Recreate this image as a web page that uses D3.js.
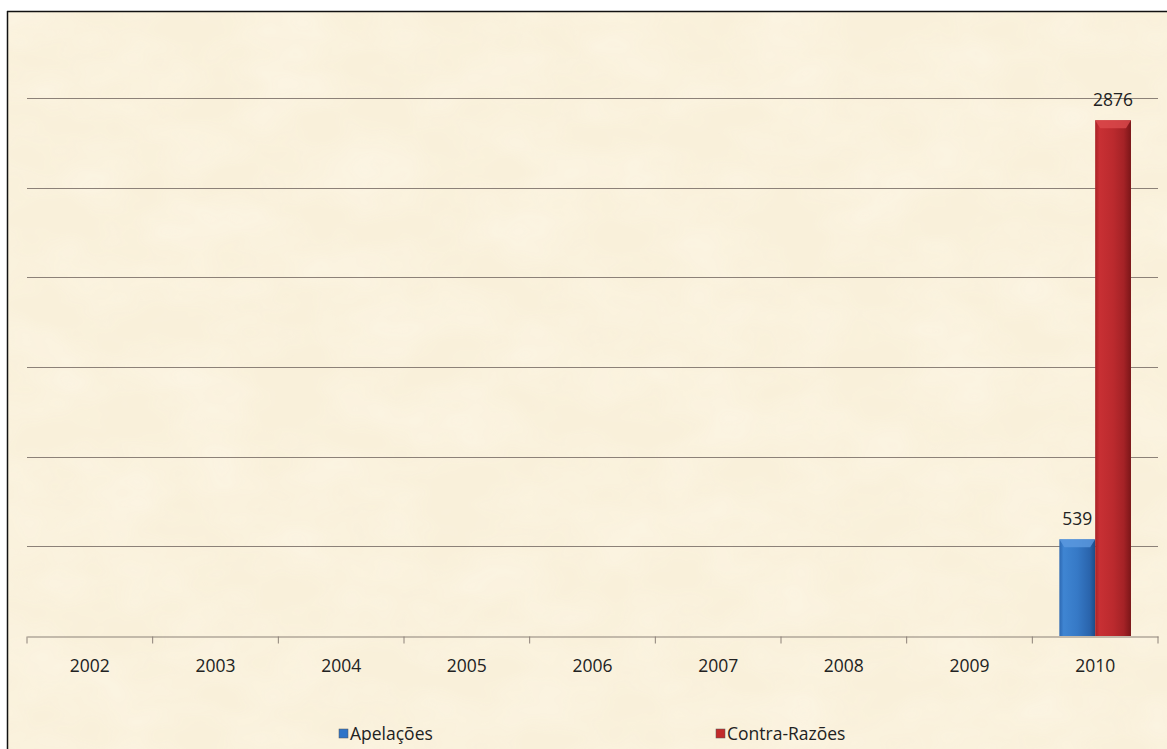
<html>
<head>
<meta charset="utf-8">
<title>Apelações x Contra-Razões</title>
<style>
  body { margin: 0; background: #ffffff; }
  svg { display: block; }
  .tick text { font-family: "Open Sans", "Liberation Sans", sans-serif; font-size: 17.5px; fill: #222; }
  .lbl { font-family: "Open Sans", "Liberation Sans", sans-serif; font-size: 17.5px; fill: #222; }
</style>
<script src="https://cdn.jsdelivr.net/npm/d3@7"></script>
</head>
<body>
<svg id="chart" width="1167" height="749"></svg>
<script>
// data
var years = ["2002", "2003", "2004", "2005", "2006", "2007", "2008", "2009", "2010"];
var apelacoes = [0, 0, 0, 0, 0, 0, 0, 0, 539];
var contraRazoes = [0, 0, 0, 0, 0, 0, 0, 0, 2876];
var seriesNames = ["Apelações", "Contra-Razões"];
var yTicks = [0, 500, 1000, 1500, 2000, 2500, 3000];

var svg = d3.select("#chart"),
    margin = {top: 98, right: 9, bottom: 113, left: 27},
    width = +svg.attr("width") - margin.left - margin.right,
    height = +svg.attr("height") - margin.top - margin.bottom;

var defs = svg.append("defs");

// parchment texture
var f = defs.append("filter").attr("id", "paper").attr("x", 0).attr("y", 0).attr("width", 1).attr("height", 1);
f.append("feTurbulence").attr("type", "fractalNoise").attr("baseFrequency", "0.012 0.02").attr("numOctaves", 3).attr("seed", 4).attr("result", "n");
f.append("feColorMatrix").attr("in", "n").attr("type", "matrix")
  .attr("values", "0 0 0 0 0.99  0 0 0 0 0.95  0 0 0 0 0.84  0.9 0 0 0 -0.28")
  .attr("result", "c");
f.append("feComposite").attr("in", "c").attr("in2", "SourceGraphic").attr("operator", "in");

function grad(id, stops) {
  var g = defs.append("linearGradient").attr("id", id).attr("x1", 0).attr("x2", 1).attr("y1", 0).attr("y2", 0);
  stops.forEach(function(s) { g.append("stop").attr("offset", s[0]).attr("stop-color", s[1]); });
}
grad("gBlue", [[0, "#2c68b2"], [0.12, "#3f85d2"], [0.5, "#3679c6"], [0.85, "#2a64ac"], [1, "#1d4c86"]]);
grad("gRed", [[0, "#a82226"], [0.12, "#c83034"], [0.5, "#bb2a2e"], [0.8, "#a42226"], [1, "#7a1618"]]);
var colors = ["url(#gBlue)", "url(#gRed)"];
var topColors = ["#5d9ae0", "#db4a4c"];
var legendColors = ["#2f74c8", "#c22a2a"];

// background
svg.append("rect").attr("x", 7).attr("y", 11).attr("width", 1160).attr("height", 738).attr("fill", "#f9f0da");
svg.append("rect").attr("x", 7).attr("y", 11).attr("width", 1160).attr("height", 738).attr("fill", "#fff").attr("filter", "url(#paper)").attr("opacity", 0.9);
svg.append("line").attr("x1", 7).attr("x2", 1167).attr("y1", 11.5).attr("y2", 11.5).attr("stroke", "#111").attr("stroke-width", 1.5);
svg.append("line").attr("x1", 7.5).attr("x2", 7.5).attr("y1", 11).attr("y2", 749).attr("stroke", "#111").attr("stroke-width", 1.5);

var g = svg.append("g").attr("transform", "translate(" + margin.left + "," + margin.top + ")");

var x = d3.scaleBand().domain(years).range([0, width]);
var x1 = d3.scaleBand().domain(seriesNames).range([x.bandwidth() * 0.215, x.bandwidth() * 0.785]);
var y = d3.scaleLinear().domain([0, 3000]).range([height, 0]);

// gridlines
g.selectAll(".grid").data(yTicks.slice(1)).enter().append("line")
  .attr("x1", 0).attr("x2", width)
  .attr("y1", function(d) { return Math.round(y(d)) + 0.5; })
  .attr("y2", function(d) { return Math.round(y(d)) + 0.5; })
  .attr("stroke", "#8c8178").attr("stroke-width", 1.2);

// x axis
var xAxis = g.append("g").attr("transform", "translate(0," + (height + 0.5) + ")")
  .call(d3.axisBottom(x).tickSize(0).tickPadding(23));
xAxis.select(".domain").attr("stroke", "#8c8178").attr("stroke-width", 1.2);
xAxis.selectAll(".tick text").attr("dy", "0.71em");
var bounds = years.map(function(d) { return x(d); }).concat([width]);
xAxis.selectAll(".sep").data(bounds).enter().append("line")
  .attr("x1", function(d) { return d; }).attr("x2", function(d) { return d; })
  .attr("y1", 0).attr("y2", 7).attr("stroke", "#8c8178");

// bars
var series = [apelacoes, contraRazoes];
series.forEach(function(vals, si) {
  var grp = g.append("g");
  var data = years.map(function(yr, i) { return {year: yr, v: vals[i]}; }).filter(function(d) { return d.v > 0; });
  grp.selectAll("rect.bar").data(data).enter().append("rect")
    .attr("x", function(d) { return x(d.year) + x1(seriesNames[si]); })
    .attr("y", function(d) { return y(d.v); })
    .attr("width", x1.bandwidth())
    .attr("height", function(d) { return height - y(d.v); })
    .attr("fill", colors[si]);
  // top bevel
  grp.selectAll("path.bev").data(data).enter().append("path")
    .attr("d", function(d) {
      var x0 = x(d.year) + x1(seriesNames[si]), w = x1.bandwidth(), t = y(d.v);
      return "M" + x0 + "," + t + "h" + w + "l-5,8h" + (10 - w) + "z";
    })
    .attr("fill", topColors[si]).attr("opacity", 0.8);
  grp.selectAll("text").data(data).enter().append("text").attr("class", "lbl")
    .attr("x", function(d) { return x(d.year) + x1(seriesNames[si]) + x1.bandwidth() / 2; })
    .attr("y", function(d) { return y(d.v) - 14; })
    .attr("text-anchor", "middle")
    .text(function(d) { return d.v; });
});

// legend
var legX = [339, 716];
seriesNames.forEach(function(name, i) {
  var lg = svg.append("g").attr("transform", "translate(" + legX[i] + ",729)");
  lg.append("rect").attr("width", 9).attr("height", 9).attr("fill", legendColors[i]).attr("stroke", "#555").attr("stroke-width", 0.5);
  lg.append("text").attr("class", "lbl").attr("x", 11).attr("y", 11).text(name);
});
</script>
</body>
</html>
